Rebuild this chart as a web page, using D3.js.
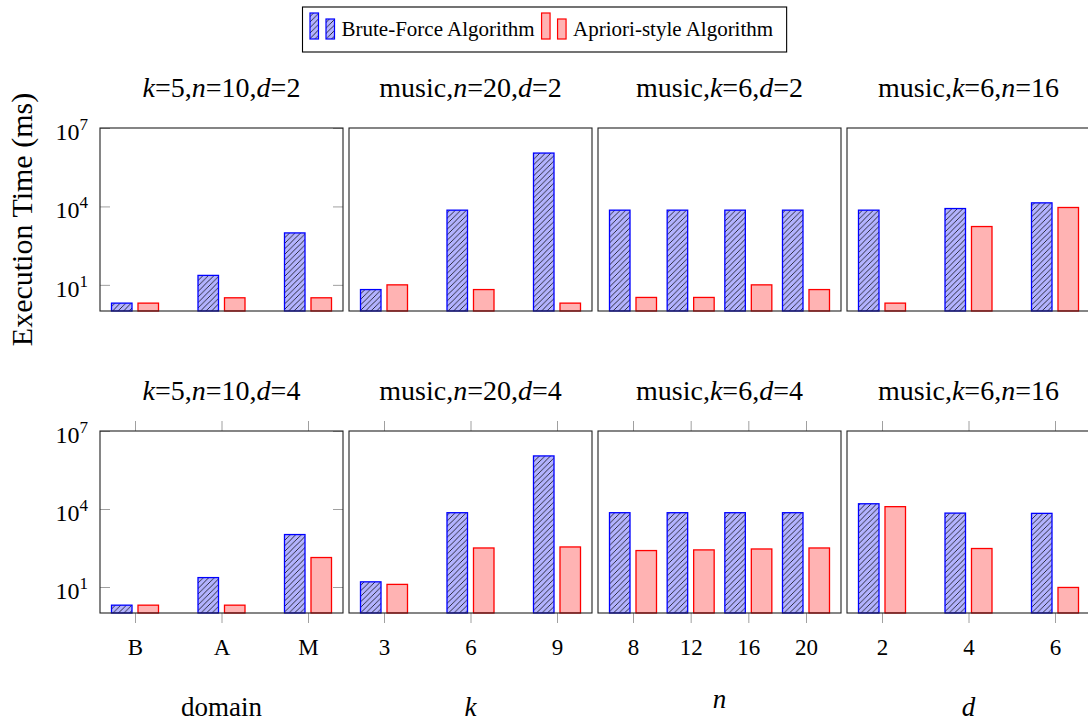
<!DOCTYPE html>
<html>
<head>
<meta charset="utf-8">
<script src="https://cdn.jsdelivr.net/npm/d3@7"></script>
<style>
  body { margin: 0; background: #fff; }
</style>
</head>
<body>
<svg id="chart" width="1088" height="723"></svg>
<script>
// ---- data ----
const series = ["Brute-Force Algorithm", "Apriori-style Algorithm"];

const domainCats = ["B", "A", "M"];
const kCats = ["3", "6", "9"];
const nCats = ["8", "12", "16", "20"];
const dCats = ["2", "4", "6"];
const panelCats = [domainCats, kCats, nCats, dCats];

const titlesTop = ["k=5,n=10,d=2", "music,n=20,d=2", "music,k=6,d=2", "music,k=6,n=16"];
const titlesBottom = ["k=5,n=10,d=4", "music,n=20,d=4", "music,k=6,d=4", "music,k=6,n=16"];
const xLabels = ["domain", "k", "n", "d"];
const yLabel = "Execution Time (ms)";

// execution time in ms, one array per panel
const bruteTop = [[2, 23, 970], [6.6, 7200, 1.1e6], [7200, 7200, 7200, 7200], [7200, 8300, 13700]];
const aprioriTop = [[2, 3.2, 3.2], [10, 6.6, 2], [3.3, 3.3, 10, 6.6], [2, 1700, 9100]];
const bruteBottom = [[2, 23, 1040], [15.8, 7200, 1.1e6], [7200, 7200, 7200, 7200], [15900, 6950, 6800]];
const aprioriBottom = [[2, 2, 136], [12.6, 317, 347], [252, 267, 290, 317], [12300, 302, 9.6]];

const yTicks = [10, 1e4, 1e7];
const yExp = ["1", "4", "7"];

// ---- layout ----
const FONT = "'Liberation Serif', 'Times New Roman', serif";
const panelLeft0 = 100, panelW = 243, panelStep = 249, outerPad = 35;
const rows = [
  { top: 128, bottom: 311, titles: titlesTop, brute: bruteTop, apriori: aprioriTop, xAxis: false },
  { top: 431, bottom: 613, titles: titlesBottom, brute: bruteBottom, apriori: aprioriBottom, xAxis: true }
];

const blueFill = "#b3b3ff", blueStroke = "#0000ff";
const redFill = "#ffb3b3", redStroke = "#ff0000";
const tickGrey = "#a0a0a0";

const svg = d3.select("#chart").attr("font-family", FONT);

// hatch pattern (north east lines)
const defs = svg.append("defs");
const pat = defs.append("pattern")
  .attr("id", "hatch")
  .attr("patternUnits", "userSpaceOnUse")
  .attr("width", 5.5).attr("height", 5.5);
pat.append("rect").attr("width", 5.5).attr("height", 5.5).attr("fill", blueFill);
pat.append("path")
  .attr("d", "M-1,1 L1,-1 M0,5.5 L5.5,0 M4.5,6.5 L6.5,4.5")
  .attr("stroke", "#000").attr("stroke-width", 0.75);

function txt(sel) {
  return sel.append("text").style("font-family", FONT).attr("fill", "#000");
}

function addMathText(sel, str) {
  // italicise single-letter variables like k=, n=, d=
  const parts = str.split(/([knd](?==))/);
  parts.forEach((p, i) => {
    if (!p) return;
    sel.append("tspan")
      .style("font-style", i % 2 === 1 ? "italic" : "normal")
      .text(p);
  });
}

const inner = d3.scaleBand().domain(series).range([-23.5, 23.5]).paddingInner(0.226);

rows.forEach((row, r) => {
  const y = d3.scaleLog().domain([1, 1e7]).range([row.bottom, row.top]);

  panelCats.forEach((cats, p) => {
    const left = panelLeft0 + p * panelStep;
    const right = left + panelW;
    const x = d3.scalePoint().domain(cats).range([left + outerPad, right - outerPad]);
    const g = svg.append("g");

    const bars = [];
    cats.forEach((c, i) => {
      bars.push({ cat: c, s: series[0], v: row.brute[p][i] });
      bars.push({ cat: c, s: series[1], v: row.apriori[p][i] });
    });

    g.selectAll("rect.bar")
      .data(bars)
      .enter().append("rect")
      .attr("class", "bar")
      .attr("x", d => x(d.cat) + inner(d.s))
      .attr("width", inner.bandwidth())
      .attr("y", d => y(d.v))
      .attr("height", d => row.bottom - y(d.v))
      .attr("fill", d => d.s === series[0] ? "url(#hatch)" : redFill)
      .attr("stroke", d => d.s === series[0] ? blueStroke : redStroke)
      .attr("stroke-width", 1.3);

    // y ticks + labels on the first panel only
    if (p === 0) {
      g.append("g")
        .attr("transform", `translate(${left},0)`)
        .call(d3.axisLeft(y).tickValues(yTicks).tickSize(-10).tickFormat(""))
        .call(a => a.select(".domain").remove())
        .selectAll("line").attr("stroke", tickGrey);
      g.append("g")
        .attr("transform", `translate(${right},0)`)
        .call(d3.axisRight(y).tickValues(yTicks).tickSize(-10).tickFormat(""))
        .call(a => a.select(".domain").remove())
        .selectAll("line").attr("stroke", tickGrey);

      yTicks.forEach((t, i) => {
        const lab = txt(g)
          .attr("x", left - 12)
          .attr("y", y(t) + 12)
          .attr("text-anchor", "end")
          .style("font-size", "24px");
        lab.append("tspan").text("10");
        lab.append("tspan")
          .attr("dy", -10)
          .style("font-size", "17px")
          .text(yExp[i]);
      });
    }

    // x ticks on bottom row
    if (row.xAxis) {
      g.append("g")
        .attr("transform", `translate(0,${row.top})`)
        .call(d3.axisTop(x).tickSize(10).tickFormat(""))
        .call(a => a.select(".domain").remove())
        .selectAll("line").attr("stroke", tickGrey);
      const ax = g.append("g")
        .attr("transform", `translate(0,${row.bottom})`)
        .call(d3.axisBottom(x).tickSize(10).tickPadding(16))
        .call(a => a.select(".domain").remove());
      ax.selectAll("line").attr("stroke", tickGrey);
      ax.selectAll("text")
        .attr("fill", "#000")
        .style("font-size", "23px")
        .style("font-family", FONT);

      const hasAscender = /[bdfhklt]/.test(xLabels[p]);
      txt(svg)
        .attr("x", (left + right) / 2)
        .attr("y", hasAscender ? 716 : 708)
        .attr("text-anchor", "middle")
        .style("font-size", "27px")
        .style("font-style", xLabels[p].length === 1 ? "italic" : "normal")
        .text(xLabels[p]);
    }

    // panel frame
    g.append("rect")
      .attr("x", left).attr("y", row.top)
      .attr("width", panelW).attr("height", row.bottom - row.top)
      .attr("fill", "none")
      .attr("stroke", "#222").attr("stroke-width", 1.1);

    // title
    const t = txt(svg)
      .attr("x", (left + right) / 2)
      .attr("y", row.top - 31)
      .attr("text-anchor", "middle")
      .style("font-size", "28px");
    addMathText(t, row.titles[p]);
  });
});

// y axis label (top row only)
txt(svg)
  .attr("transform", `translate(32,${(rows[0].top + rows[0].bottom) / 2}) rotate(-90)`)
  .attr("text-anchor", "middle")
  .style("font-size", "30px")
  .text(yLabel);

// ---- legend ----
const legend = svg.append("g");
const legBox = legend.append("rect")
  .attr("fill", "#fff").attr("stroke", "#000").attr("stroke-width", 1.1);
let cx = 0;
const legBase = 39;
series.forEach((s, i) => {
  const fill = i === 0 ? "url(#hatch)" : redFill;
  const stroke = i === 0 ? blueStroke : redStroke;
  [26, 20].forEach((h, j) => {
    legend.append("rect")
      .attr("x", cx + j * 16).attr("y", legBase - h)
      .attr("width", 8.5).attr("height", h)
      .attr("fill", fill).attr("stroke", stroke).attr("stroke-width", 1.2);
  });
  cx += 31.5;
  const tx = txt(legend)
    .attr("x", cx).attr("y", 36)
    .style("font-size", "21px")
    .text(s);
  cx += tx.node().getComputedTextLength() + 7;
});
const legW = cx;
legBox.attr("x", -7.5).attr("y", 7).attr("width", legW + 14).attr("height", 45);
legend.attr("transform", `translate(${310},0)`);
</script>
</body>
</html>
